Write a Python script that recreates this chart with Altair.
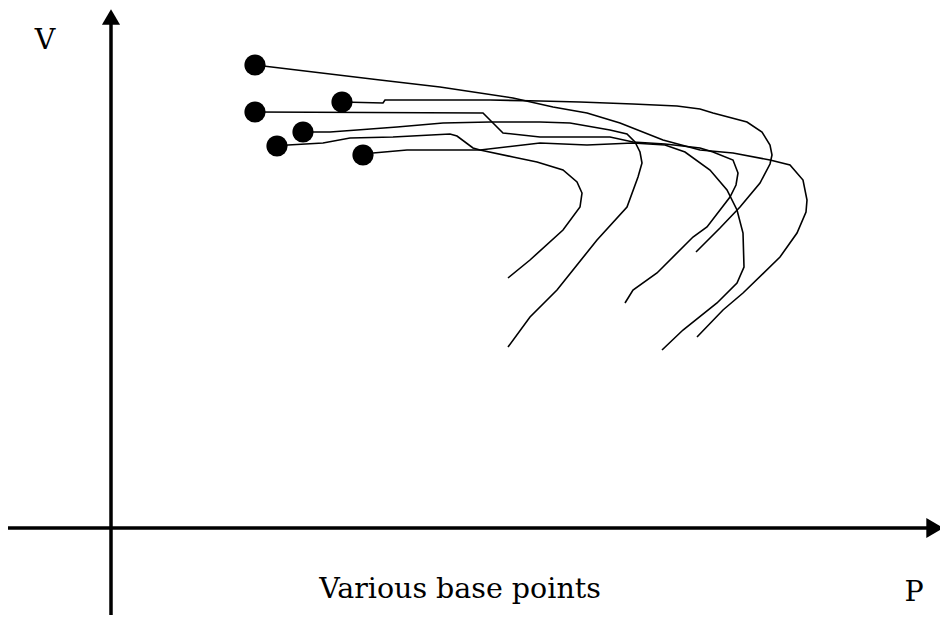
import altair as alt
import pandas as pd

# PV curves (P = active power, V = voltage), arbitrary units
curve_names = ["c1", "c2", "c3", "c4", "c5", "c6"]

c1_P = [166, 177, 212, 239, 282, 339, 346, 362, 369, 402, 426, 452, 466, 471, 469, 452, 419, 397]
c1_V = [382, 383, 385, 390, 391, 394, 392, 380, 378, 371, 366, 358, 346, 335, 321, 298, 268, 250]

c2_P = [192, 219, 246, 286, 332, 379, 429, 459, 499, 516, 524, 529, 531, 527, 516, 486, 446, 419, 397]
c2_V = [396, 396, 398, 401, 405, 406, 406, 405, 398, 394, 386, 376, 365, 351, 321, 288, 238, 211, 181]

c3_P = [144, 372, 382, 392, 429, 499, 522, 554, 589, 602, 622, 627, 625, 619, 596, 582, 546, 522, 514]
c3_V = [416, 415, 405, 395, 391, 391, 386, 384, 380, 376, 368, 355, 343, 331, 301, 291, 255, 238, 225]

c4_P = [252, 262, 296, 346, 369, 412, 429, 476, 522, 554, 574, 599, 616, 626, 632, 633, 626, 606, 572, 551]
c4_V = [373, 375, 378, 378, 378, 383, 385, 383, 385, 383, 376, 358, 338, 318, 295, 261, 245, 225, 198, 178]

c5_P = [231, 272, 274, 379, 429, 469, 522, 566, 589, 602, 636, 651, 659, 661, 659, 649, 629, 609, 585]
c5_V = [426, 425, 428, 428, 427, 426, 424, 422, 419, 415, 406, 396, 383, 373, 364, 345, 321, 300, 276]

c6_P = [144, 269, 329, 402, 442, 476, 509, 552, 589, 622, 659, 679, 692, 696, 695, 686, 669, 632, 612, 586]
c6_V = [463, 448, 441, 430, 421, 415, 405, 388, 378, 375, 368, 363, 348, 328, 316, 295, 271, 235, 218, 191]

# base points (start of each curve)
base_P = [166, 192, 144, 252, 231, 144]
base_V = [382, 396, 416, 373, 426, 463]

# labels
label_text = ["V", "Various base points", "P"]
label_P = [-66, 349, 803]
label_V = [479, -70, -73]

curves_P = [c1_P, c2_P, c3_P, c4_P, c5_P, c6_P]
curves_V = [c1_V, c2_V, c3_V, c4_V, c5_V, c6_V]
rows = []
for name, ps, vs in zip(curve_names, curves_P, curves_V):
    for i, (p, v) in enumerate(zip(ps, vs)):
        rows.append({"curve": name, "idx": i, "P": p, "V": v})
curves_df = pd.DataFrame(rows)
base_df = pd.DataFrame({"P": base_P, "V": base_V})
labels_df = pd.DataFrame({"text": label_text, "P": label_P, "V": label_V})

xs = alt.Scale(domain=[-103, 829], nice=False, zero=False)
ys = alt.Scale(domain=[-87, 520], nice=False, zero=False)

# axes as arrows
vaxis = alt.Chart(pd.DataFrame({"P": [0], "V": [-87], "V2": [508]})).mark_rule(
    color="black", strokeWidth=3.5
).encode(x=alt.X("P:Q", scale=xs, axis=None), y=alt.Y("V:Q", scale=ys, axis=None), y2="V2:Q")

haxis = alt.Chart(pd.DataFrame({"P": [-106], "P2": [818], "V": [0]})).mark_rule(
    color="black", strokeWidth=3.5
).encode(x=alt.X("P:Q", scale=xs, axis=None), x2="P2:Q", y=alt.Y("V:Q", scale=ys, axis=None))

up_arrow = alt.Chart(pd.DataFrame({"P": [0], "V": [511]})).mark_point(
    shape="triangle-up", filled=True, color="black", size=330, opacity=1
).encode(x=alt.X("P:Q", scale=xs, axis=None), y=alt.Y("V:Q", scale=ys, axis=None))

right_arrow = alt.Chart(pd.DataFrame({"P": [824], "V": [0]})).mark_point(
    shape="triangle-right", filled=True, color="black", size=400, opacity=1
).encode(x=alt.X("P:Q", scale=xs, axis=None), y=alt.Y("V:Q", scale=ys, axis=None))

lines = alt.Chart(curves_df).mark_line(color="black", strokeWidth=1.6).encode(
    x=alt.X("P:Q", scale=xs, axis=None),
    y=alt.Y("V:Q", scale=ys, axis=None),
    detail="curve:N",
    order="idx:Q",
)

dots = alt.Chart(base_df).mark_circle(color="black", size=450, opacity=1).encode(
    x=alt.X("P:Q", scale=xs, axis=None), y=alt.Y("V:Q", scale=ys, axis=None)
)

labels = alt.Chart(labels_df).mark_text(
    font="DejaVu Serif", fontSize=28.5, color="black", align="center", baseline="alphabetic"
).encode(
    x=alt.X("P:Q", scale=xs, axis=None), y=alt.Y("V:Q", scale=ys, axis=None), text="text:N"
)

chart = alt.layer(vaxis, haxis, up_arrow, right_arrow, lines, dots, labels).properties(
    width=932, height=607, padding=0, autosize=alt.AutoSizeParams(type="none"), background="white"
).configure_view(stroke=None)

chart.save("out.html", embed_options={"renderer": "svg", "actions": False})
